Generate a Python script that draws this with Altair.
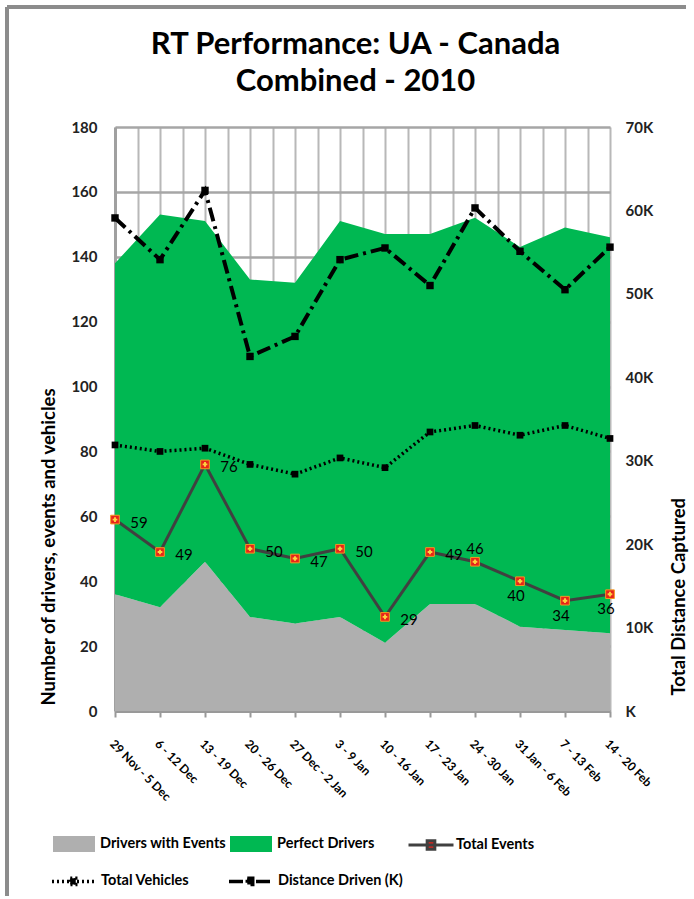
import json
import altair as alt
import pandas as pd

title_lines = ["RT Performance: UA - Canada", "Combined - 2010"]
weeks = ["29 Nov - 5 Dec", "6 - 12 Dec", "13 - 19 Dec", "20 - 26 Dec", "27 Dec - 2 Jan",
         "3 - 9 Jan", "10 - 16 Jan", "17 - 23 Jan", "24 - 30 Jan", "31 Jan - 6 Feb",
         "7 - 13 Feb", "14 - 20 Feb"]
drivers_with_events = [36, 32, 46, 29, 27, 29, 21, 33, 33, 26, 25, 24]
perfect_drivers = [102, 121, 105, 104, 105, 122, 126, 114, 119, 117, 124, 122]
total_events = [59, 49, 76, 50, 47, 50, 29, 49, 46, 40, 34, 36]
total_vehicles = [82, 80, 81, 76, 73, 78, 75, 86, 88, 85, 88, 84]
distance_k = [59.1, 54.1, 62.4, 42.5, 44.9, 54.1, 55.5, 51.0, 60.3, 55.1, 50.5, 55.6]

df = pd.DataFrame({
    "i": list(range(len(weeks))),
    "week": weeks,
    "Drivers with Events": drivers_with_events,
    "Perfect Drivers": perfect_drivers,
    "Total Events": total_events,
    "Total Vehicles": total_vehicles,
    "Distance Driven (K)": distance_k,
})

FONT = "Lato"
W, H = 495, 584
LEG = dict(labelFont=FONT, labelFontSize=14.5, labelFontWeight="bold", labelColor="#000", title=None)

label_expr = "datum.value % 1 == 0 ? " + json.dumps(weeks) + "[datum.value] : ''"
x_axis = alt.Axis(
    values=[k / 2 for k in range(23)], labelExpr=label_expr, title=None,
    grid=True, gridColor="#B8B8B8", gridWidth=2,
    labelAngle=45, labelAlign="left", labelBaseline="top", labelPadding=21,
    labelFont=FONT, labelFontSize=12, labelFontWeight="bold", labelColor="#000",
    tickSize=6, tickColor="#999", tickWidth=2,
    tickOpacity={"condition": {"test": "datum.value % 1 != 0", "value": 0}, "value": 1},
    domainColor="#999", domainWidth=3, labelOverlap=False, labelBound=False,
)
x_scale = alt.Scale(domain=[0, 11], nice=False, zero=False)
X = alt.X("i:Q", scale=x_scale, axis=x_axis)

y_axis = alt.Axis(
    values=list(range(0, 181, 20)), title="Number of drivers, events and vehicles",
    grid=True, gridColor="#A6A6A6", gridWidth=2.5,
    labelFont=FONT, labelFontSize=15, labelFontWeight="bold", labelColor="#222",
    labelPadding=18, tickSize=0, domainColor="#A0A0A0", domainWidth=3,
    titleFont=FONT, titleFontSize=18.5, titleFontWeight="bold", titleColor="#000", titlePadding=12,
    titleAnchor="start", titleAngle=-90, titleAlign="left", titleY=H - 6,
)
y_scale = alt.Scale(domain=[0, 180], nice=False)

areas = alt.Chart(df).transform_fold(
    ["Drivers with Events", "Perfect Drivers"], as_=["series", "value"]
).transform_calculate(
    ord="datum.series == 'Drivers with Events' ? 0 : 1"
).mark_area(opacity=1).encode(
    x=X,
    y=alt.Y("value:Q", stack="zero", scale=y_scale, axis=y_axis),
    color=alt.Color("series:N",
        scale=alt.Scale(domain=["Drivers with Events", "Perfect Drivers"], range=["#AFAFAF", "#00B852"]),
        legend=alt.Legend(orient="none", legendX=-62, legendY=696, direction="horizontal",
                          symbolType="M-1,-0.38H1V0.38H-1Z", symbolSize=1764, symbolStrokeWidth=0,
                          symbolOpacity=1, labelOffset=5, columnPadding=4, **LEG)),
    order=alt.Order("ord:Q"),
)

Yl = lambda f: alt.Y(f + ":Q", scale=y_scale, axis=y_axis)

dash_scale = alt.Scale(domain=["Total Vehicles", "Distance Driven (K)"], range=[[2, 3], [14, 5, 3, 5]])
dash_legend = alt.Legend(orient="none", legendX=-65, legendY=731, direction="horizontal",
                         symbolType="M-1,0H1M-0.13,-0.15H0.13V0.15H-0.13Z",
                         symbolSize=1764, symbolStrokeWidth=3.5,
                         symbolStrokeColor="#000", symbolFillColor="#000",
                         labelOffset=5, columnPadding=32, **LEG)

ev_line = alt.Chart(df).transform_calculate(s="'Total Events'").mark_line(strokeWidth=3).encode(
    x=X, y=Yl("Total Events"),
    stroke=alt.Stroke("s:N", scale=alt.Scale(domain=["Total Events"], range=["#404040"]),
        legend=alt.Legend(orient="none", legendX=292, legendY=694,
                          symbolType="M-1,0H1M-0.17,-0.19H0.17V0.19H-0.17Z",
                          symbolFillColor="#E8231B",
                          symbolSize=2025, symbolStrokeWidth=3, labelOffset=1, **LEG)),
)
ev_pts = alt.Chart(df).mark_square(size=75, color="#E8231B", stroke="#F29A1F", strokeWidth=1, opacity=1).encode(
    x=X, y=Yl("Total Events"))
ev_cross = alt.Chart(df).mark_point(shape="cross", size=22, filled=True, color="#FFD23F", opacity=1).encode(
    x=X, y=Yl("Total Events"))

txt = dict(font=FONT, fontSize=15, color="#000")
ev_lab_r = alt.Chart(df).transform_filter("datum.i <= 7").mark_text(dx=24, dy=3, **txt).encode(
    x=X, y=Yl("Total Events"), text="Total Events:Q")
ev_lab_up = alt.Chart(df).transform_filter("datum.i == 8").mark_text(dx=0, dy=-13, **txt).encode(
    x=X, y=Yl("Total Events"), text="Total Events:Q")
ev_lab_dn = alt.Chart(df).transform_filter("datum.i >= 9").mark_text(dx=-4, dy=15, **txt).encode(
    x=X, y=Yl("Total Events"), text="Total Events:Q")

veh = alt.Chart(df).transform_calculate(s="'Total Vehicles'").mark_line(strokeWidth=3.5, color="#000").encode(
    x=X, y=Yl("Total Vehicles"),
    strokeDash=alt.StrokeDash("s:N", scale=dash_scale, legend=dash_legend))
veh_pts = alt.Chart(df).mark_square(size=45, color="#000", opacity=1).encode(x=X, y=Yl("Total Vehicles"))

# decorations: outer frame (top and left edges) and the two-line title
one = pd.DataFrame({"k": [0]})
frame_top = alt.Chart(one).mark_rule(color="#8C8C8C", strokeWidth=4).encode(
    x=alt.value(-108), x2=alt.value(W + 76), y=alt.value(-120))
frame_left = alt.Chart(one).mark_rule(color="#8C8C8C", strokeWidth=4).encode(
    x=alt.value(-108), y=alt.value(-120), y2=alt.value(H + 185))
ttl = dict(font=FONT, fontSize=31, fontWeight="bold", color="#000", align="center", baseline="middle")
title1 = alt.Chart(one).mark_text(**ttl).encode(
    x=alt.value(W / 2 - 7), y=alt.value(-82), text=alt.value(title_lines[0]))
title2 = alt.Chart(one).mark_text(**ttl).encode(
    x=alt.value(W / 2 - 7), y=alt.value(-45), text=alt.value(title_lines[1]))

left = alt.layer(frame_top, frame_left, title1, title2, areas, veh, veh_pts, ev_line, ev_pts, ev_cross,
                 ev_lab_r, ev_lab_up, ev_lab_dn)

r_axis = alt.Axis(
    orient="right", values=list(range(0, 71, 10)),
    labelExpr="datum.value == 0 ? 'K' : datum.value + 'K'",
    title="Total Distance Captured", grid=False,
    labelFont=FONT, labelFontSize=15, labelFontWeight="bold", labelColor="#222",
    labelPadding=15, tickSize=0, domain=False,
    titleFont=FONT, titleFontSize=18.5, titleFontWeight="bold", titleColor="#000", titlePadding=36,
    titleAnchor="start", titleAngle=-90, titleAlign="left", titleY=H - 16,
)
r_scale = alt.Scale(domain=[0, 70], nice=False)
Yr = alt.Y("Distance Driven (K):Q", scale=r_scale, axis=r_axis)

dist = alt.Chart(df).transform_calculate(s="'Distance Driven (K)'").mark_line(strokeWidth=4, color="#000").encode(
    x=X, y=Yr,
    strokeDash=alt.StrokeDash("s:N", scale=dash_scale, legend=dash_legend))
dist_pts = alt.Chart(df).mark_square(size=55, color="#000", opacity=1).encode(x=X, y=Yr)
right = alt.layer(dist, dist_pts)

chart = alt.layer(left, right).resolve_scale(y="independent").properties(
    width=W, height=H,
    padding={"left": 5, "top": 5, "right": 2, "bottom": 2},
).configure_view(stroke="#A0A0A0", strokeWidth=2).configure(background="white")

chart.save("out.html", embed_options={"renderer": "svg", "actions": False})
